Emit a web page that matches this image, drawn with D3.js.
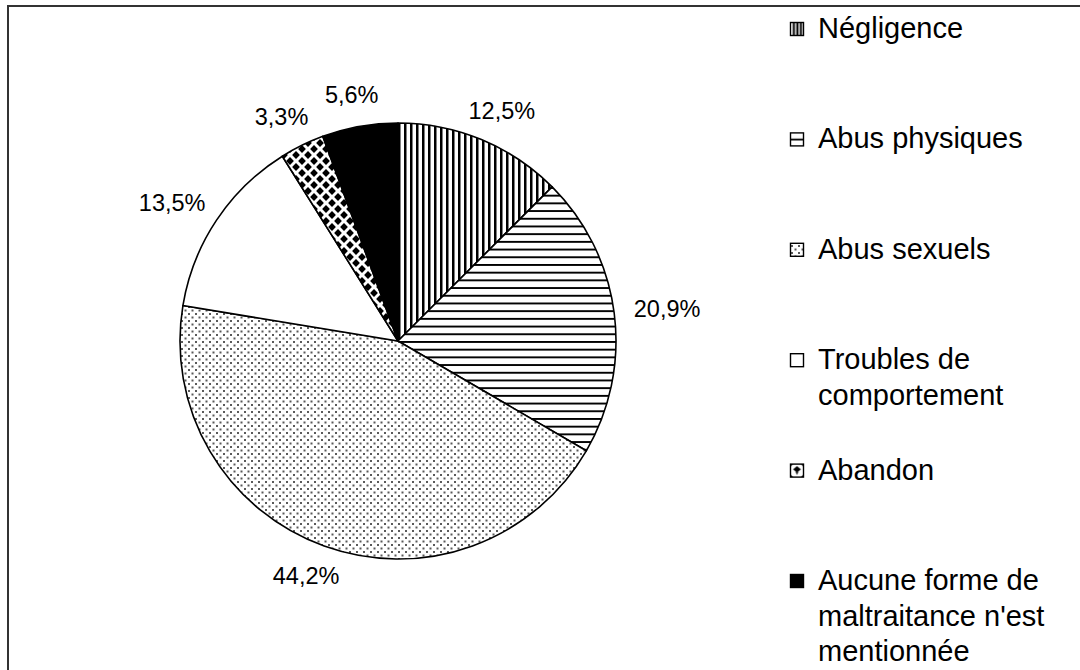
<!DOCTYPE html>
<html><head><meta charset="utf-8">
<script src="https://cdn.jsdelivr.net/npm/d3@7"></script>
<style>html,body{margin:0;padding:0;background:#fff;}svg{display:block;font-family:"Liberation Sans",Arial,sans-serif;}</style>
</head><body>
<svg id="chart" width="1080" height="670"></svg>
<script>
const categories = ["Négligence","Abus physiques","Abus sexuels","Troubles de comportement","Abandon","Aucune forme de maltraitance n'est mentionnée"];
const legendLines = [["Négligence"],["Abus physiques"],["Abus sexuels"],["Troubles de","comportement"],["Abandon"],["Aucune forme de","maltraitance n'est","mentionnée"]];
const values = [12.5,20.9,44.2,13.5,3.3,5.6];
const labels = ["12,5%","20,9%","44,2%","13,5%","3,3%","5,6%"];
const fills = ["url(#pVert)","url(#pHoriz)","url(#pDots)","#ffffff","url(#pDiam)","#000000"];
const legendFills = ["url(#lVert)","url(#lHoriz)","url(#pDots)","#ffffff","url(#lDiam)","#000000"];

const svg = d3.select("#chart");
const defs = svg.append("defs");

// vertical stripes
let p = defs.append("pattern").attr("id","pVert").attr("patternUnits","userSpaceOnUse").attr("width",6).attr("height",6);
p.append("rect").attr("width",6).attr("height",6).attr("fill","#fff");
p.append("rect").attr("x",0).attr("width",2.5).attr("height",6).attr("fill","#000");
// horizontal stripes
p = defs.append("pattern").attr("id","pHoriz").attr("patternUnits","userSpaceOnUse").attr("width",8).attr("height",7.7);
p.append("rect").attr("width",8).attr("height",7.7).attr("fill","#fff");
p.append("rect").attr("y",0).attr("width",8).attr("height",1.9).attr("fill","#000");
// dots
p = defs.append("pattern").attr("id","pDots").attr("patternUnits","userSpaceOnUse").attr("width",7).attr("height",7);
p.append("rect").attr("width",7).attr("height",7).attr("fill","#fff");
p.append("rect").attr("x",0).attr("y",0).attr("width",2).attr("height",2).attr("fill","#5a5a5a");
p.append("rect").attr("x",3.5).attr("y",3.5).attr("width",2).attr("height",2).attr("fill","#5a5a5a");
// diamonds
p = defs.append("pattern").attr("id","pDiam").attr("patternUnits","userSpaceOnUse").attr("width",12).attr("height",12);
p.append("rect").attr("width",12).attr("height",12).attr("fill","#fff");
[[0,0],[12,0],[0,12],[12,12],[6,6]].forEach(([x,y])=>{
  p.append("path").attr("d",`M${x},${y-3.9}L${x+3.9},${y}L${x},${y+3.9}L${x-3.9},${y}Z`).attr("fill","#000");
});
// legend patterns (object bounding box)
p = defs.append("pattern").attr("id","lVert").attr("patternUnits","objectBoundingBox").attr("patternContentUnits","objectBoundingBox").attr("width",1).attr("height",1);
p.append("rect").attr("width",1).attr("height",1).attr("fill","#fff");
[0.18,0.45,0.72].forEach(x=>p.append("rect").attr("x",x).attr("width",0.16).attr("height",1).attr("fill","#000"));
p = defs.append("pattern").attr("id","lHoriz").attr("patternUnits","objectBoundingBox").attr("patternContentUnits","objectBoundingBox").attr("width",1).attr("height",1);
p.append("rect").attr("width",1).attr("height",1).attr("fill","#fff");
p.append("rect").attr("y",0.44).attr("width",1).attr("height",0.14).attr("fill","#000");
p = defs.append("pattern").attr("id","lDiam").attr("patternUnits","objectBoundingBox").attr("patternContentUnits","objectBoundingBox").attr("width",1).attr("height",1);
p.append("rect").attr("width",1).attr("height",1).attr("fill","#fff");
p.append("path").attr("d","M0.5,0.15L0.8,0.4L0.5,0.65L0.2,0.4Z").attr("fill","#000");
p.append("path").attr("d","M0.4,0.6L0.6,0.6L0.5,0.85Z").attr("fill","#000");
p.append("path").attr("d","M0,0L0.2,0L0,0.2Z M1,0L0.8,0L1,0.2Z M0,1L0.2,1L0,0.8Z M1,1L0.8,1L1,0.8Z").attr("fill","#000");

// frame
svg.append("rect").attr("x",8).attr("y",6).attr("width",1200).attr("height",800)
  .attr("fill","none").attr("stroke","#333").attr("stroke-width",2);

const cx = 398, cy = 341, r = 218;
const pie = d3.pie().sort(null).value(d=>d);
const arcs = pie(values);
const arc = d3.arc().innerRadius(0).outerRadius(r);
const g = svg.append("g").attr("transform",`translate(${cx},${cy})`);
g.selectAll("path.slice").data(arcs).join("path").attr("class","slice")
  .attr("d",arc).attr("fill",(d,i)=>fills[i]).attr("stroke","#000").attr("stroke-width",1.6).attr("stroke-linejoin","round");

// labels
const lr = r + 20;
const fs = 23.5;
g.selectAll("text.lbl").data(arcs).join("text").attr("class","lbl")
  .attr("font-size",fs).attr("fill","#000")
  .text((d,i)=>labels[i])
  .each(function(d){
    const a = (d.startAngle + d.endAngle)/2;
    const w = this.getComputedTextLength();
    const h = fs;
    const x = Math.sin(a)*lr + Math.sin(a)*w/2;
    const y = -Math.cos(a)*lr - Math.cos(a)*h/2;
    d3.select(this).attr("x",x).attr("y",y).attr("text-anchor","middle").attr("dy","0.35em");
  });

// legend
const lg = svg.append("g");
const step = 110.4;
legendLines.forEach((lines,i)=>{
  const by = 38 + i*step;
  lg.append("rect").attr("x",790.5).attr("y",by-15.5).attr("width",13).attr("height",13)
    .attr("fill",legendFills[i]).attr("stroke","#000").attr("stroke-width",1.4);
  const t = lg.append("text").attr("x",818).attr("y",by).attr("font-size",29).attr("fill","#000");
  lines.forEach((ln,j)=>{
    t.append("tspan").attr("x",818).attr("y",by + j*35.5).text(ln);
  });
});
</script>
</body></html>
